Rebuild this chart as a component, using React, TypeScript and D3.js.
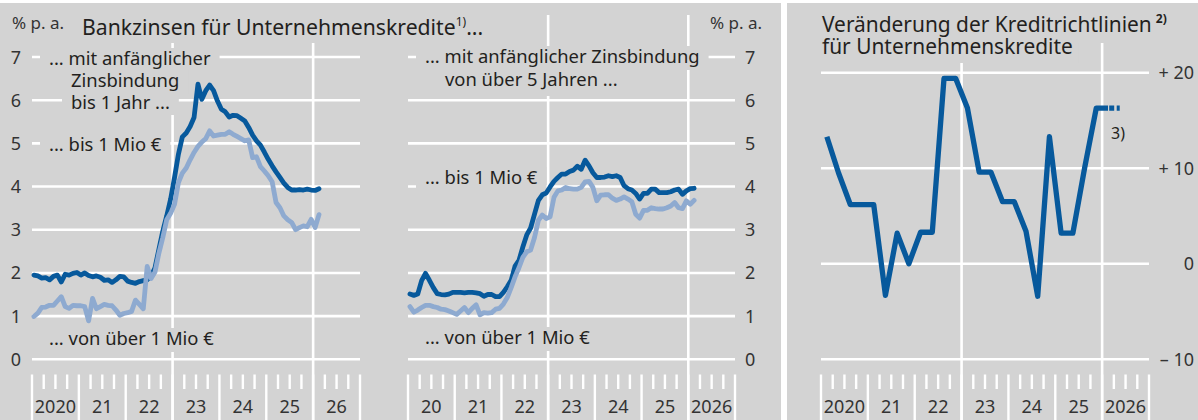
import React, { useEffect, useRef } from 'react';
import * as d3 from 'd3';

// ---------- data ----------
const yearLabelsLeft = ['2020', '21', '22', '23', '24', '25', '26'];
const yearLabelsMid = ['20', '21', '22', '23', '24', '25', '2026'];
const yearLabelsRight = ['2020', '21', '22', '23', '24', '25', '2026'];
const rateTicks = [0, 1, 2, 3, 4, 5, 6, 7];
const blsTicks = [-10, 0, 10, 20];
const blsTickLabels = ['– 10', '0', '+ 10', '+ 20'];

// monthly, Jan 2020 .. Feb 2026 (% p.a.)
const shortBis1Mio = [
  1.95, 1.93, 1.88, 1.89, 1.84, 1.92, 1.95, 1.79, 1.97, 1.95,
  1.99, 2.01, 1.95, 2.0, 1.94, 1.91, 1.93, 1.9, 1.83, 1.84,
  1.78, 1.84, 1.92, 1.91, 1.81, 1.78, 1.76, 1.8, 1.82, 1.84,
  1.93, 2.12, 2.55, 2.97, 3.32, 3.71, 4.21, 4.75, 5.15, 5.24,
  5.39, 5.6, 6.37, 6.02, 6.22, 6.35, 6.22, 5.98, 5.79, 5.73,
  5.61, 5.65, 5.64, 5.58, 5.52, 5.37, 5.19, 5.06, 4.96, 4.8,
  4.63, 4.48, 4.34, 4.21, 4.08, 3.98, 3.92, 3.92, 3.93, 3.92,
  3.94, 3.92, 3.91, 3.95,
];
const shortUeber1Mio = [
  0.99, 1.07, 1.2, 1.21, 1.25, 1.25, 1.35, 1.45, 1.22, 1.18,
  1.25, 1.24, 1.24, 1.22, 0.89, 1.41, 1.17, 1.22, 1.27, 1.25,
  1.24, 1.14, 1.02, 1.06, 1.08, 1.11, 1.37, 1.27, 1.17, 2.15,
  1.87, 2.02, 2.46, 2.82, 3.23, 3.38, 3.59, 4.09, 4.31, 4.43,
  4.62, 4.79, 4.93, 5.03, 5.11, 5.29, 5.17, 5.19, 5.21, 5.21,
  5.27, 5.21, 5.16, 5.11, 5.06, 5.08, 4.67, 4.69, 4.46, 4.36,
  4.25, 4.11, 3.63, 3.51, 3.32, 3.23, 3.17, 3.0, 3.05, 3.09,
  3.07, 3.24, 3.05, 3.35,
];
const longBis1Mio = [
  1.51, 1.48, 1.51, 1.82, 1.99, 1.83, 1.66, 1.52, 1.5, 1.49,
  1.51, 1.55, 1.55, 1.55, 1.54, 1.55, 1.55, 1.54, 1.52, 1.46,
  1.5, 1.5, 1.45, 1.45, 1.55, 1.68, 1.83, 2.16, 2.29, 2.6,
  2.88, 3.04, 3.36, 3.68, 3.81, 3.85, 3.99, 4.12, 4.21, 4.29,
  4.29, 4.35, 4.38, 4.47, 4.4, 4.61, 4.48, 4.32, 4.21, 4.21,
  4.22, 4.25, 4.23, 4.25, 4.21, 4.02, 3.95, 3.92, 3.84, 3.71,
  3.84, 3.84, 3.94, 3.94, 3.86, 3.86, 3.86, 3.88, 3.92, 3.94,
  3.82, 3.9, 3.95, 3.96,
];
const longUeber1Mio = [
  1.22, 1.09, 1.14, 1.2, 1.25, 1.25, 1.22, 1.2, 1.16, 1.15,
  1.12, 1.08, 1.04, 1.12, 1.2, 1.08, 1.18, 1.26, 1.03, 1.08,
  1.07, 1.08, 1.16, 1.18, 1.28, 1.43, 1.66, 1.91, 2.12, 2.36,
  2.49, 2.53, 2.82, 3.22, 3.34, 3.26, 3.3, 3.75, 3.9, 3.92,
  3.98, 3.95, 3.94, 3.94, 3.98, 4.11, 4.12, 3.98, 3.67, 3.8,
  3.81, 3.81, 3.73, 3.68, 3.71, 3.76, 3.71, 3.65, 3.36, 3.27,
  3.45, 3.45, 3.51, 3.49, 3.48, 3.48, 3.51, 3.55, 3.63, 3.51,
  3.49, 3.67, 3.59, 3.68,
];
// quarterly, 2020 Q1 .. 2026 Q1 (net percentage)
const creditStandards = [
  13.3, 9.5, 6.2, 6.2,
  6.2, -3.3, 3.2, 0,
  3.3, 3.3, 19.4, 19.4,
  16.3, 9.6, 9.6, 6.5,
  6.5, 3.4, -3.4, 13.3,
  3.2, 3.2, 10.0, 16.3,
  16.3,
];
const creditStandardsExpected = [16.3]; // 2026 Q2

// ---------- style ----------
const BG = '#d3d3d3';
const DARK = '#07599c';
const LIGHT = '#8eaad0';
const TEXT = '#231f20';
const TICKTEXT = '#333333';
const FONT = "'Noto Sans', 'DejaVu Sans', sans-serif";

type Line = { text?: string; x: number; base: number; build?: (t: any) => void; padX?: number; above?: number; below?: number };

export default function App() {
  const ref = useRef<SVGSVGElement>(null);

  useEffect(() => {
    const svg = d3.select(ref.current as SVGSVGElement);
    svg.selectAll('*').remove();
    const W = 1198;
    const H = 420;
    svg.append('rect').attr('width', W).attr('height', H).attr('fill', '#ffffff');
    svg.append('rect').attr('x', 0).attr('y', 3).attr('width', 781).attr('height', H - 3).attr('fill', BG);
    svg.append('rect').attr('x', 787).attr('y', 3).attr('width', W - 787).attr('height', H - 3).attr('fill', BG);

    const gridL = svg.append('g');
    const labelL = svg.append('g');
    const lineL = svg.append('g');

    const BOTTOM = 359.3;

    const makePanel = (cfg: any) => {
      const x = d3.scaleLinear().domain([2020, 2027]).range([cfg.x0, cfg.x1]);
      const y = d3.scaleLinear().domain(cfg.dom).range([BOTTOM, cfg.top]);
      gridL.append('g').selectAll('line').data(cfg.ticks).join('line')
        .attr('x1', cfg.x0).attr('x2', cfg.x1)
        .attr('y1', (d: number) => y(d)).attr('y2', (d: number) => y(d))
        .attr('stroke', '#fff').attr('stroke-width', 2.6);
      gridL.append('g').selectAll('line').data([2023, 2026]).join('line')
        .attr('x1', (d: number) => x(d)).attr('x2', (d: number) => x(d))
        .attr('y1', 15).attr('y2', H)
        .attr('stroke', '#fff').attr('stroke-width', 2.6);
      const qs = d3.range(0, 29);
      gridL.append('g').selectAll('line').data(qs).join('line')
        .attr('x1', (q: number) => x(2020 + q / 4)).attr('x2', (q: number) => x(2020 + q / 4))
        .attr('y1', 374.5).attr('y2', (q: number) => (q % 4 === 0 ? H : 389))
        .attr('stroke', '#fff').attr('stroke-width', 2.4);
      gridL.append('g').selectAll('text').data(cfg.years).join('text')
        .attr('x', (_d: string, i: number) => x(2020 + i + 0.5))
        .attr('y', 413)
        .attr('text-anchor', 'middle')
        .attr('font-size', 18)
        .attr('fill', TICKTEXT)
        .text((d: string) => d);
      gridL.append('g').selectAll('text').data(cfg.ticks).join('text')
        .attr('x', cfg.lx)
        .attr('y', (d: number) => y(d) + 6.5)
        .attr('text-anchor', cfg.anchor)
        .attr('font-size', 18)
        .attr('fill', TICKTEXT)
        .text((_d: number, i: number) => cfg.labels[i]);
      return { x, y };
    };

    const left = makePanel({ x0: 32, x1: 360, dom: [0, 7], top: 57, ticks: rateTicks, labels: rateTicks.map(String), lx: 21, anchor: 'end', years: yearLabelsLeft });
    const mid = makePanel({ x0: 408, x1: 735, dom: [0, 7], top: 57, ticks: rateTicks, labels: rateTicks.map(String), lx: 745, anchor: 'start', years: yearLabelsMid });
    const right = makePanel({ x0: 821, x1: 1149, dom: [-10, 20], top: 72.7, ticks: blsTicks, labels: blsTickLabels, lx: 1194, anchor: 'end', years: yearLabelsRight });

    // multi-line label: one <text>, one <tspan> per line, gray box behind every line
    const block = (lines: Line[], size: number) => {
      const g = labelL.append('g');
      const rg = g.append('g');
      const t = g.append('text').attr('font-size', size).attr('fill', TEXT);
      lines.forEach((ln) => {
        const s = t.append('tspan').attr('x', ln.x).attr('y', ln.base);
        if (ln.build) ln.build(s); else s.text(ln.text || '');
        const w = (s.node() as SVGTextContentElement).getComputedTextLength();
        const padX = ln.padX ?? 9;
        const above = ln.above ?? 17;
        const below = ln.below ?? 7;
        rg.append('rect').attr('fill', BG)
          .attr('x', ln.x - padX).attr('y', ln.base - above)
          .attr('width', w + 2 * padX).attr('height', above + below);
      });
    };

    labelL.append('text').attr('x', 12).attr('y', 29).attr('font-size', 17).attr('fill', TICKTEXT).text('% p. a.');
    labelL.append('text').attr('x', 710).attr('y', 29).attr('font-size', 17).attr('fill', TICKTEXT).text('% p. a.');

    // left title
    block([{
      x: 82, base: 35, padX: 6, above: 22, below: 8,
      build: (s) => {
        s.append('tspan').text('Bankzinsen für Unternehmenskredite');
        s.append('tspan').attr('font-size', 12).attr('dy', -9).text('1)');
        s.append('tspan').attr('dy', 9).text('...');
      },
    }], 21.2);

    block([
      { text: '... mit anfänglicher', x: 49, base: 65 },
      { text: 'Zinsbindung', x: 71, base: 87 },
      { text: 'bis 1 Jahr ...', x: 71, base: 109, below: 6 },
    ], 18.4);
    block([{ text: '... bis 1 Mio €', x: 49, base: 151 }], 18.4);
    block([{ text: '... von über 1 Mio €', x: 49, base: 345 }], 18.4);

    block([
      { text: '... mit anfänglicher Zinsbindung', x: 425, base: 63 },
      { text: 'von über 5 Jahren ...', x: 445, base: 86, below: 10 },
    ], 18.4);
    block([{ text: '... bis 1 Mio €', x: 425, base: 184 }], 18.4);
    block([{ text: '... von über 1 Mio €', x: 425, base: 344 }], 18.4);

    // right title
    block([
      {
        x: 822, base: 32, padX: 6, above: 22, below: 11,
        build: (s) => {
          s.append('tspan').text('Veränderung der Kreditrichtlinien');
          s.append('tspan').attr('font-size', 12).attr('font-weight', 'bold').attr('dx', 4).attr('dy', -9).text('2)');
        },
      },
      { text: 'für Unternehmenskredite', x: 822, base: 54, padX: 6, above: 11, below: 9 },
    ], 20.9);

    labelL.append('text').attr('x', 1111).attr('y', 139).attr('font-size', 16).attr('fill', TEXT).text('3)');

    // lines
    const monthly = (p: any) => d3.line<number>()
      .x((_d, i) => p.x(2020 + (i + 0.5) / 12))
      .y((d) => p.y(d));
    const drawLine = (p: any, data: number[], color: string, w: number) => {
      lineL.append('path').attr('d', monthly(p)(data) as string)
        .attr('fill', 'none').attr('stroke', color).attr('stroke-width', w)
        .attr('stroke-linejoin', 'round').attr('stroke-linecap', 'round');
    };
    drawLine(left, shortBis1Mio, DARK, 4.8);
    drawLine(left, shortUeber1Mio, LIGHT, 4.8);
    drawLine(mid, longBis1Mio, DARK, 4.8);
    drawLine(mid, longUeber1Mio, LIGHT, 4.8);

    const qx = (i: number) => right.x(2020 + (i + 0.5) / 4);
    const qLine = d3.line<number>().x((_d, i) => qx(i)).y((d) => right.y(d));
    lineL.append('path').attr('d', qLine(creditStandards) as string)
      .attr('fill', 'none').attr('stroke', DARK).attr('stroke-width', 5.3)
      .attr('stroke-linejoin', 'round').attr('stroke-linecap', 'butt');
    const n = creditStandards.length;
    const expPts: [number, number][] = [
      [qx(n - 1), right.y(creditStandards[n - 1])],
      ...creditStandardsExpected.map((v, k) => [qx(n + k), right.y(v)] as [number, number]),
    ];
    lineL.append('path').attr('d', d3.line()(expPts) as string)
      .attr('fill', 'none').attr('stroke', DARK).attr('stroke-width', 5.3)
      .attr('stroke-dasharray', '0,1.2,5,2.5,4,20');
  }, []);

  return (
    <svg
      ref={ref}
      width={1198}
      height={420}
      fontFamily={FONT}
      style={{ position: 'absolute', left: 0, top: 0, display: 'block' }}
    />
  );
}
